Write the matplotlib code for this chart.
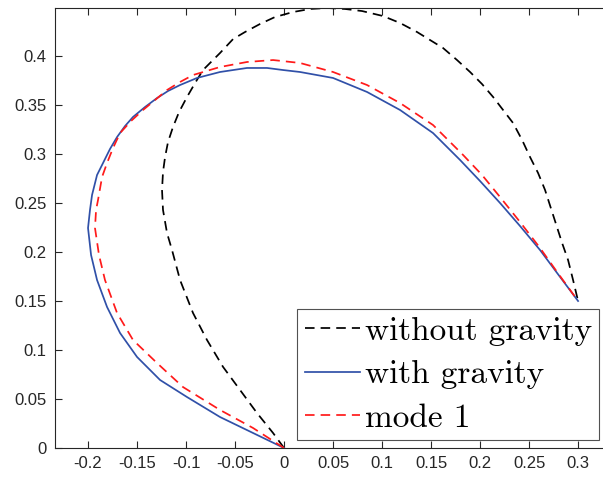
import matplotlib
matplotlib.use('Agg')
import matplotlib.pyplot as plt

# curve without gravity (black dashed)
x_nog = [0, -0.0112, -0.0276, -0.0449, -0.0622, -0.0786, -0.0929, -0.1061, -0.1143, -0.1194,
         -0.1235, -0.1245, -0.1235, -0.1214, -0.1184, -0.1133, -0.1071, -0.0990, -0.0908, -0.0827,
         -0.0653, -0.0520, -0.0398, -0.0245, -0.0092, 0.0092, 0.0265, 0.0439, 0.0622, 0.0796,
         0.1010, 0.1184, 0.1357, 0.1490, 0.1622, 0.1765, 0.1898, 0.2020, 0.2133, 0.2235,
         0.2337, 0.2429, 0.2510, 0.2592, 0.2663, 0.2745, 0.2837, 0.2898, 0.2949, 0.3]
y_nog = [0, 0.0153, 0.0357, 0.0592, 0.0827, 0.1102, 0.1378, 0.1714, 0.2020, 0.2194,
         0.2429, 0.2633, 0.2816, 0.2969, 0.3122, 0.3276, 0.3429, 0.3582, 0.3724, 0.3857,
         0.4031, 0.4173, 0.4245, 0.4327, 0.4398, 0.4449, 0.4480, 0.4490, 0.4480, 0.4459,
         0.4408, 0.4337, 0.4245, 0.4163, 0.4082, 0.3959, 0.3837, 0.3714, 0.3582, 0.3449,
         0.3316, 0.3143, 0.2969, 0.2806, 0.2633, 0.2378, 0.2092, 0.1918, 0.1714, 0.15]

# curve with gravity (blue solid)
x_g = [0, -0.0316, -0.0653, -0.0990, -0.1265, -0.1500, -0.1673, -0.1806, -0.1908, -0.1969,
       -0.2000, -0.1980, -0.1959, -0.1908, -0.1847, -0.1776, -0.1704, -0.1622, -0.1541, -0.1418,
       -0.1296, -0.1184, -0.1061, -0.0888, -0.0653, -0.0378, -0.0173, -0.0010, 0.0163, 0.0500,
       0.0847, 0.1184, 0.1520, 0.1796, 0.2000, 0.2204, 0.2408, 0.2612, 0.2786, 0.3]
y_g = [0, 0.0153, 0.0316, 0.0520, 0.0694, 0.0929, 0.1173, 0.1439, 0.1714, 0.1969,
       0.2245, 0.2429, 0.2582, 0.2786, 0.2908, 0.3051, 0.3173, 0.3286, 0.3378, 0.3480,
       0.3571, 0.3643, 0.3704, 0.3776, 0.3837, 0.3878, 0.3878, 0.3857, 0.3837, 0.3776,
       0.3633, 0.3449, 0.3214, 0.2939, 0.2724, 0.2500, 0.2265, 0.2020, 0.1786, 0.15]

# mode 1 (red dashed)
x_m1 = [0, -0.0316, -0.0653, -0.1031, -0.1296, -0.1541, -0.1704, -0.1827, -0.1888, -0.1929,
        -0.1918, -0.1898, -0.1857, -0.1806, -0.1745, -0.1673, -0.1561, -0.1439, -0.1316, -0.1194,
        -0.1061, -0.0929, -0.0653, -0.0378, -0.0112, 0.0163, 0.0500, 0.0847, 0.1184, 0.1520,
        0.1827, 0.2020, 0.2204, 0.2408, 0.2612, 0.2786, 0.3]
y_m1 = [0, 0.0204, 0.0388, 0.0622, 0.0867, 0.1102, 0.1378, 0.1714, 0.1969, 0.2245,
        0.2429, 0.2531, 0.2765, 0.2908, 0.3061, 0.3214, 0.3337, 0.3449, 0.3551, 0.3653,
        0.3735, 0.3806, 0.3888, 0.3939, 0.3959, 0.3929, 0.3837, 0.3704, 0.3520, 0.3296,
        0.2990, 0.2786, 0.2561, 0.2306, 0.2041, 0.1796, 0.15]

labels = ['without gravity', 'with gravity', 'mode 1']
xticks = [-0.2, -0.15, -0.1, -0.05, 0, 0.05, 0.1, 0.15, 0.2, 0.25, 0.3]
yticks = [0, 0.05, 0.1, 0.15, 0.2, 0.25, 0.3, 0.35, 0.4]

plt.rcParams['font.family'] = ['Liberation Sans', 'DejaVu Sans']
fig = plt.figure(figsize=(6.03, 4.79), dpi=100)
W, H = 603, 479
ax = fig.add_axes([55 / W, 31 / H, 566 / W, 440 / H])

dash = (0, (5.5, 3.5))
ax.plot(x_nog, y_nog, color='black', lw=1.25, ls=dash, label=labels[0])
ax.plot(x_g, y_g, color='#3050A8', lw=1.25, ls='-', label=labels[1])
ax.plot(x_m1, y_m1, color='#FF1A1A', lw=1.25, ls=dash, label=labels[2])

ax.set_xlim(-0.2337, 0.3438)
ax.set_ylim(0, 0.449)
ax.set_xticks(xticks)
ax.set_yticks(yticks)
ax.set_xticklabels(['%g' % v for v in xticks])
ax.set_yticklabels(['%g' % v for v in yticks])

axcol = '#262626'
for s in ax.spines.values():
    s.set_color(axcol)
    s.set_linewidth(0.8)
ax.tick_params(direction='in', length=5, width=0.8, colors=axcol,
               labelsize=12, labelcolor='#262626', top=True, right=True, pad=6)

leg = ax.legend(loc='lower right', bbox_to_anchor=(599 / W, 39 / H),
                bbox_transform=fig.transFigure, borderaxespad=0,
                prop={'family': 'cmr10', 'size': 24}, frameon=True, fancybox=False,
                handlelength=1.65, handletextpad=0.15, labelspacing=0.42,
                borderpad=0.22)
leg.get_frame().set_edgecolor(axcol)
leg.get_frame().set_linewidth(0.8)

fig.savefig('out.png', dpi=100)
